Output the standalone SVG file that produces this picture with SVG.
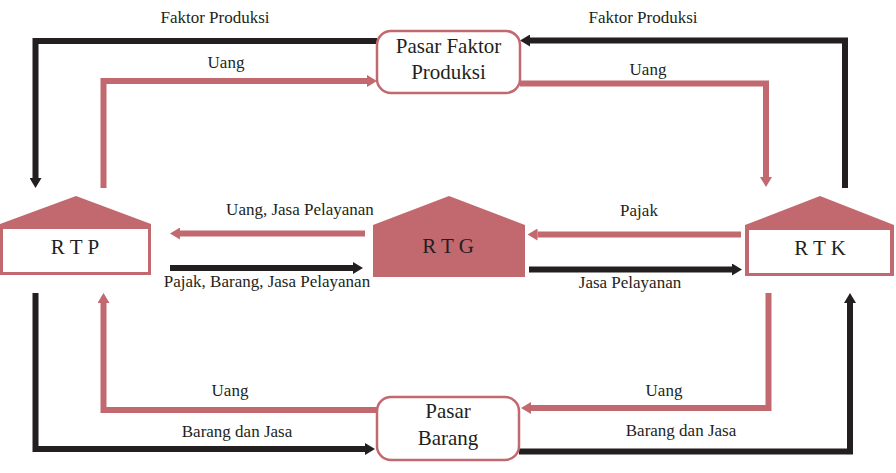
<svg xmlns="http://www.w3.org/2000/svg" width="896" height="473" viewBox="0 0 896 473">
<style>
.bk{fill:none;stroke:#231f20;stroke-width:6;stroke-linejoin:miter;stroke-linecap:butt}
.pk{fill:none;stroke:#c1696f;stroke-width:6;stroke-linejoin:miter;stroke-linecap:butt}
.lbl{font-family:"Liberation Serif","Times New Roman",serif;font-size:17px;fill:#231f20}
.big{font-family:"Liberation Serif","Times New Roman",serif;font-size:21px;fill:#231f20;text-anchor:middle}
.box{fill:#fff;stroke:#c1696f;stroke-width:2.5}
.roof{fill:#c1696f}
</style>
<defs>
<marker id="ab" markerUnits="userSpaceOnUse" markerWidth="10" markerHeight="12" viewBox="0 0 10 12" refX="0" refY="6" orient="auto"><path d="M0,0 L10,6 L0,12 z" fill="#231f20"/></marker>
<marker id="ap" markerUnits="userSpaceOnUse" markerWidth="10" markerHeight="12" viewBox="0 0 10 12" refX="0" refY="6" orient="auto"><path d="M0,0 L10,6 L0,12 z" fill="#c1696f"/></marker>
</defs>

<g id="connectors">
<path class="bk" d="M377,41 H35.5 V178" marker-end="url(#ab)"/>
<path class="pk" d="M103.5,188 V81 H367" marker-end="url(#ap)"/>
<path class="bk" d="M845,188 V40.5 H530" marker-end="url(#ab)"/>
<path class="pk" d="M520,83.5 H766 V177" marker-end="url(#ap)"/>
<path class="pk" d="M365,233.5 H180" marker-end="url(#ap)"/>
<path class="bk" d="M170,268 H353" marker-end="url(#ab)"/>
<path class="pk" d="M741,234.5 H537.5" marker-end="url(#ap)"/>
<path class="bk" d="M529,269.5 H732" marker-end="url(#ab)"/>
<path class="bk" d="M35.5,293 V449 H365" marker-end="url(#ab)"/>
<path class="pk" d="M377,410 H103.5 V303" marker-end="url(#ap)"/>
<path class="pk" d="M768.5,293 V408 H531" marker-end="url(#ap)"/>
<path class="bk" d="M519,451.5 H850 V303" marker-end="url(#ab)"/>

<text class="lbl" x="215" y="23" text-anchor="middle">Faktor Produksi</text>
<text class="lbl" x="226" y="68" text-anchor="middle">Uang</text>
<text class="lbl" x="643" y="23" text-anchor="middle">Faktor Produksi</text>
<text class="lbl" x="648" y="75" text-anchor="middle">Uang</text>
<text class="lbl" x="300" y="215" text-anchor="middle">Uang, Jasa Pelayanan</text>
<text class="lbl" x="267" y="287" text-anchor="middle">Pajak, Barang, Jasa Pelayanan</text>
<text class="lbl" x="639" y="216" text-anchor="middle">Pajak</text>
<text class="lbl" x="630" y="288" text-anchor="middle">Jasa Pelayanan</text>
<text class="lbl" x="230" y="396" text-anchor="middle">Uang</text>
<text class="lbl" x="237" y="437" text-anchor="middle">Barang dan Jasa</text>
<text class="lbl" x="664" y="396" text-anchor="middle">Uang</text>
<text class="lbl" x="681" y="436" text-anchor="middle">Barang dan Jasa</text>
</g>

<g id="pasar-faktor-produksi">
<rect class="box" x="377" y="31" width="143" height="62" rx="14"/>
<text class="big" x="448.5" y="53">Pasar Faktor</text>
<text class="big" x="448.5" y="79">Produksi</text>
</g>

<g id="pasar-barang">
<rect class="box" x="377" y="397" width="142" height="63" rx="14"/>
<text class="big" x="448" y="418">Pasar</text>
<text class="big" x="448" y="445">Barang</text>
</g>

<g id="rtp">
<polygon class="roof" points="0,224 76,196 151,224 151,275 0,275"/>
<rect x="3" y="229" width="145" height="43" fill="#fff"/>
<text class="big" x="75" y="254">R T P</text>
</g>

<g id="rtg">
<polygon class="roof" points="373,225 449,196 525,225 525,277 373,277"/>
<text class="big" x="448" y="253">R T G</text>
</g>

<g id="rtk">
<polygon class="roof" points="745,225 820,196 894,225 894,276 745,276"/>
<rect x="749" y="230" width="141" height="43" fill="#fff"/>
<text class="big" x="820" y="255">R T K</text>
</g>
</svg>
